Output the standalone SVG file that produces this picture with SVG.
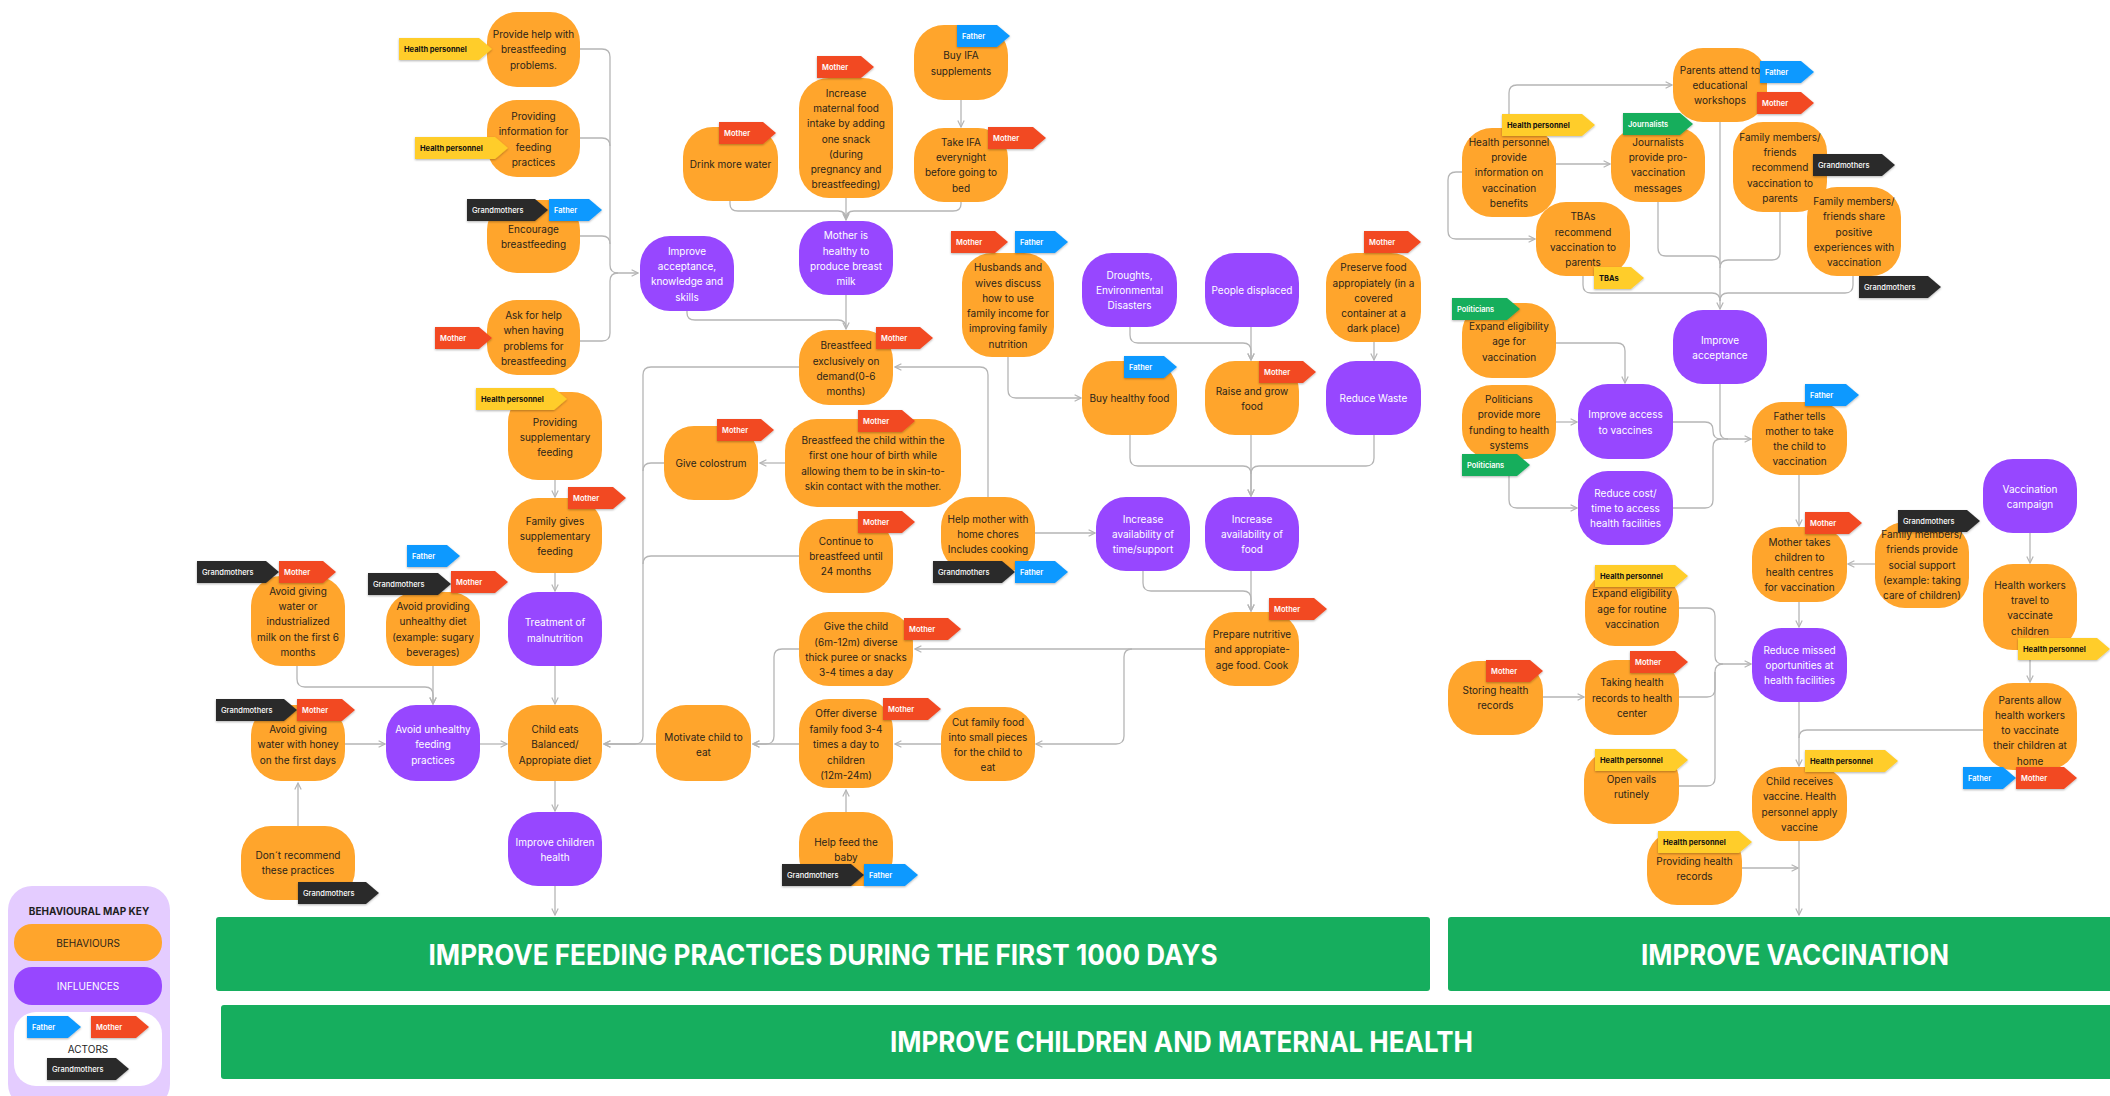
<svg xmlns="http://www.w3.org/2000/svg" width="2110" height="1096" viewBox="0 0 2110 1096">
<defs>
<marker id="ar" viewBox="0 0 10 10" refX="9" refY="5" markerWidth="8" markerHeight="8" markerUnits="userSpaceOnUse" orient="auto"><path d="M1,1 L9,5 L1,9" fill="none" stroke="#B5B5B5" stroke-width="1.5"/></marker>
<filter id="sh" x="-10%" y="-20%" width="120%" height="160%"><feDropShadow dx="0" dy="1" stdDeviation="0.8" flood-opacity="0.3"/></filter>
</defs>
<style>
.o{fill:#FFA52C}
.p{fill:#9747FF}
.t{font-family:Inter,"Noto Sans",sans-serif;font-size:10px;fill:#2B2419;text-anchor:middle;dominant-baseline:central}
.w{fill:#fff}
.c path{fill:none;stroke:#B5B5B5;stroke-width:1.3}
.c path.a{marker-end:url(#ar)}
.tag{filter:url(#sh)}
.tm{fill:#F24822}.tf{fill:#0D99FF}.tg{fill:#2C2C2C}.th{fill:#FFCD29}.tp{fill:#14AE5C}
.lt{font-family:Inter,"Noto Sans",sans-serif;font-size:7.5px;fill:#fff;font-weight:600;dominant-baseline:central}
.lg{font-weight:500}
.lk{fill:#111;font-weight:700}
.bn{fill:#16AE5E}
.bt{font-family:Inter,"Noto Sans",sans-serif;font-weight:700;fill:#fff;font-size:28px;text-anchor:middle}
.kt{font-family:Inter,"Noto Sans",sans-serif;font-size:10px;text-anchor:middle;dominant-baseline:central}
</style>
<rect width="2110" height="1096" fill="#fff"/>

<g id="connectors" class="c">
<path class="a" d="M580,49 H602 Q610,49 610,57 V265 Q610,273 618,273 H638"/>
<path d="M580,138 H602 Q610,138 610,146"/>
<path d="M580,236 H602 Q610,236 610,244"/>
<path d="M580,341 H602 Q610,341 610,333 V281 Q610,273 618,273"/>
<path class="a" d="M730,201 V204 Q730,211 738,211 H838 Q846,211 846,219"/>
<path class="a" d="M846,198 V220"/>
<path d="M961,202 V204 Q961,211 953,211 H854 Q846,211 846,219"/>
<path class="a" d="M961,100 V127"/>
<path class="a" d="M846,295 V329"/>
<path d="M687,311 V313 Q687,320 695,320 H838 Q846,320 846,328"/>
<path class="a" d="M988,497 V375 Q988,367 980,367 H895"/>
<path class="a" d="M799,367 H651 Q643,367 643,375 V736 Q643,744 635,744 H604"/>
<path d="M664,463 H651 Q643,463 643,471"/>
<path d="M799,556 H651 Q643,556 643,564"/>
<path class="a" d="M785,463 H760"/>
<path class="a" d="M1008,357 V390 Q1008,398 1016,398 H1081"/>
<path class="a" d="M1130,327 V335 Q1130,343 1138,343 H1243 Q1251,343 1251,351 V360"/>
<path class="a" d="M1251,327 V360"/>
<path class="a" d="M1374,342 V360"/>
<path class="a" d="M1130,435 V458 Q1130,466 1138,466 H1243 Q1251,466 1251,474 V496"/>
<path class="a" d="M1251,435 V496"/>
<path d="M1374,435 V458 Q1374,466 1366,466 H1259 Q1251,466 1251,474"/>
<path class="a" d="M1035,533 H1095"/>
<path class="a" d="M1143,571 V583 Q1143,591 1151,591 H1243 Q1251,591 1251,599 V611"/>
<path class="a" d="M1251,571 V611"/>
<path class="a" d="M1205,649 H915"/>
<path class="a" d="M1132,649 Q1124,649 1124,657 V736 Q1124,744 1116,744 H1036"/>
<path class="a" d="M941,744 H895"/>
<path class="a" d="M799,649 H782 Q774,649 774,657 V736 Q774,744 766,744 H753"/>
<path class="a" d="M799,744 H753"/>
<path class="a" d="M656,744 H604"/>
<path class="a" d="M846,812 V790"/>
<path class="a" d="M555,781 V811"/>
<path class="a" d="M555,886 V915"/>
<path class="a" d="M555,480 V497"/>
<path class="a" d="M555,573 V591"/>
<path class="a" d="M555,666 V704"/>
<path class="a" d="M297,666 V679 Q297,687 305,687 H425 Q433,687 433,695 V704"/>
<path class="a" d="M433,666 V704"/>
<path class="a" d="M345,744 H385"/>
<path class="a" d="M480,744 H507"/>
<path class="a" d="M298,826 V783"/>

<path class="a" d="M1509,128 V93 Q1509,85 1517,85 H1672"/>
<path class="a" d="M1556,164 H1610"/>
<path class="a" d="M1462,172 H1456 Q1448,172 1448,180 V231 Q1448,239 1456,239 H1535"/>
<path class="a" d="M1720,122 V309"/>
<path d="M1658,202 V248 Q1658,256 1666,256 H1712 Q1720,256 1720,264"/>
<path d="M1780,212 V252 Q1780,260 1772,260 H1728 Q1720,260 1720,268"/>
<path d="M1583,276 V285 Q1583,293 1591,293 H1712 Q1720,293 1720,301"/>
<path d="M1853,276 V285 Q1853,293 1845,293 H1728 Q1720,293 1720,301"/>
<path class="a" d="M1556,343 H1617 Q1625,343 1625,351 V383"/>
<path class="a" d="M1556,422 H1577"/>
<path class="a" d="M1509,470 V500 Q1509,508 1517,508 H1577"/>
<path class="a" d="M1673,422 H1705 Q1713,422 1713,430 V431 Q1713,439 1721,439 H1751"/>
<path d="M1673,508 H1705 Q1713,508 1713,500 V447 Q1713,439 1721,439"/>
<path d="M1720,384 V431 Q1720,439 1728,439"/>
<path class="a" d="M1799,475 V526"/>
<path class="a" d="M1875,564 H1848"/>
<path class="a" d="M2030,533 V563"/>
<path class="a" d="M2030,650 V682"/>
<path class="a" d="M1799,602 V627"/>
<path class="a" d="M1679,608 H1707 Q1715,608 1715,616 V656 Q1715,664 1723,664 H1751"/>
<path d="M1679,697 H1707 Q1715,697 1715,689 V672 Q1715,664 1723,664"/>
<path d="M1679,786 H1707 Q1715,786 1715,778 V672"/>
<path class="a" d="M1543,697 H1584"/>
<path class="a" d="M1799,702 V766"/>
<path d="M1983,730 H1807 Q1799,730 1799,738"/>
<path class="a" d="M1742,868 H1798"/>
<path class="a" d="M1799,841 V915"/>
</g>

<g id="n-provide-help"><rect class="o" x="487" y="12" width="93" height="75" rx="30"/><text class="t"><tspan x="533.5" y="34">Provide help with</tspan><tspan x="533.5" y="49">breastfeeding</tspan><tspan x="533.5" y="65">problems.</tspan></text>
<path class="tag th" d="M399 38H479L492 49L479 60H399Z"/><text class="lt lk" x="404" y="49">Health personnel</text></g>

<g id="n-providing-info"><rect class="o" x="487" y="100" width="93" height="77" rx="30"/><text class="t"><tspan x="533.5" y="116">Providing</tspan><tspan x="533.5" y="131">information for</tspan><tspan x="533.5" y="147">feeding</tspan><tspan x="533.5" y="162">practices</tspan></text>
<path class="tag th" d="M415 137H495L508 148L495 159H415Z"/><text class="lt lk" x="420" y="148">Health personnel</text></g>

<g id="n-encourage"><rect class="o" x="487" y="200" width="93" height="73" rx="30"/><text class="t"><tspan x="533.5" y="229">Encourage</tspan><tspan x="533.5" y="244">breastfeeding</tspan></text>
<path class="tag tg" d="M467 199H535L548 210L535 221H467Z"/><text class="lt lg" x="472" y="210">Grandmothers</text>
<path class="tag tf" d="M549 199H589L602 210L589 221H549Z"/><text class="lt" x="554" y="210">Father</text></g>

<g id="n-ask-help"><rect class="o" x="487" y="300" width="93" height="75" rx="30"/><text class="t"><tspan x="533.5" y="315">Ask for help</tspan><tspan x="533.5" y="330">when having</tspan><tspan x="533.5" y="346">problems for</tspan><tspan x="533.5" y="361">breastfeeding</tspan></text>
<path class="tag tm" d="M435 327H479L492 338L479 349H435Z"/><text class="lt" x="440" y="338">Mother</text></g>

<g id="n-improve-skills"><rect class="p" x="640" y="236" width="94" height="75" rx="30"/><text class="t w"><tspan x="687" y="251">Improve</tspan><tspan x="687" y="266">acceptance,</tspan><tspan x="687" y="281">knowledge and</tspan><tspan x="687" y="297">skills</tspan></text></g>

<g id="n-drink"><rect class="o" x="683" y="127" width="95" height="74" rx="30"/><text class="t"><tspan x="730.5" y="164">Drink more water</tspan></text>
<path class="tag tm" d="M719 122H763L776 133L763 144H719Z"/><text class="lt" x="724" y="133">Mother</text></g>

<g id="n-maternal"><rect class="o" x="799" y="78" width="94" height="120" rx="30"/><text class="t"><tspan x="846" y="93">Increase</tspan><tspan x="846" y="108">maternal food</tspan><tspan x="846" y="123">intake by adding</tspan><tspan x="846" y="139">one snack</tspan><tspan x="846" y="154">(during</tspan><tspan x="846" y="169">pregnancy and</tspan><tspan x="846" y="184">breastfeeding)</tspan></text>
<path class="tag tm" d="M817 56H861L874 67L861 78H817Z"/><text class="lt" x="822" y="67">Mother</text></g>

<g id="n-buy-ifa"><rect class="o" x="914" y="25" width="94" height="75" rx="30"/><text class="t"><tspan x="961" y="55">Buy IFA</tspan><tspan x="961" y="71">supplements</tspan></text>
<path class="tag tf" d="M957 25H997L1010 36L997 47H957Z"/><text class="lt" x="962" y="36">Father</text></g>

<g id="n-take-ifa"><rect class="o" x="914" y="128" width="94" height="74" rx="30"/><text class="t"><tspan x="961" y="142">Take IFA</tspan><tspan x="961" y="157">everynight</tspan><tspan x="961" y="172">before going to</tspan><tspan x="961" y="188">bed</tspan></text>
<path class="tag tm" d="M988 127H1033L1046 138L1033 149H988Z"/><text class="lt" x="993" y="138">Mother</text></g>

<g id="n-mother-healthy"><rect class="p" x="799" y="221" width="94" height="74" rx="30"/><text class="t w"><tspan x="846" y="235">Mother is</tspan><tspan x="846" y="251">healthy to</tspan><tspan x="846" y="266">produce breast</tspan><tspan x="846" y="281">milk</tspan></text></g>

<g id="n-bf-exclusive"><rect class="o" x="799" y="330" width="94" height="75" rx="30"/><text class="t"><tspan x="846" y="345">Breastfeed</tspan><tspan x="846" y="361">exclusively  on</tspan><tspan x="846" y="376">demand(0-6</tspan><tspan x="846" y="391">months)</tspan></text>
<path class="tag tm" d="M876 327H920L933 338L920 349H876Z"/><text class="lt" x="881" y="338">Mother</text></g>

<g id="n-husbands"><rect class="o" x="962" y="253" width="92" height="104" rx="30"/><text class="t"><tspan x="1008" y="267">Husbands and</tspan><tspan x="1008" y="283">wives discuss</tspan><tspan x="1008" y="298">how to use</tspan><tspan x="1008" y="313">family income for</tspan><tspan x="1008" y="328">improving family</tspan><tspan x="1008" y="344">nutrition</tspan></text>
<path class="tag tm" d="M951 231H995L1008 242L995 253H951Z"/><text class="lt" x="956" y="242">Mother</text>
<path class="tag tf" d="M1015 231H1055L1068 242L1055 253H1015Z"/><text class="lt" x="1020" y="242">Father</text></g>

<g id="n-droughts"><rect class="p" x="1082" y="253" width="95" height="74" rx="30"/><text class="t w"><tspan x="1129.5" y="275">Droughts,</tspan><tspan x="1129.5" y="290">Environmental</tspan><tspan x="1129.5" y="305">Disasters</tspan></text></g>

<g id="n-displaced"><rect class="p" x="1205" y="253" width="94" height="74" rx="30"/><text class="t w"><tspan x="1252" y="290">People displaced</tspan></text></g>

<g id="n-preserve"><rect class="o" x="1326" y="253" width="95" height="89" rx="30"/><text class="t"><tspan x="1373.5" y="267">Preserve food</tspan><tspan x="1373.5" y="283">appropiately (in a</tspan><tspan x="1373.5" y="298">covered</tspan><tspan x="1373.5" y="313">container at a</tspan><tspan x="1373.5" y="328">dark place)</tspan></text>
<path class="tag tm" d="M1364 231H1408L1421 242L1408 253H1364Z"/><text class="lt" x="1369" y="242">Mother</text></g>

<g id="n-buy-healthy"><rect class="o" x="1082" y="361" width="95" height="74" rx="30"/><text class="t"><tspan x="1129.5" y="398">Buy healthy food</tspan></text>
<path class="tag tf" d="M1124 356H1164L1177 367L1164 378H1124Z"/><text class="lt" x="1129" y="367">Father</text></g>

<g id="n-raise"><rect class="o" x="1205" y="361" width="94" height="74" rx="30"/><text class="t"><tspan x="1252" y="391">Raise and grow</tspan><tspan x="1252" y="406">food</tspan></text>
<path class="tag tm" d="M1259 361H1303L1316 372L1303 383H1259Z"/><text class="lt" x="1264" y="372">Mother</text></g>

<g id="n-reduce-waste"><rect class="p" x="1326" y="361" width="95" height="74" rx="30"/><text class="t w"><tspan x="1373.5" y="398">Reduce Waste</tspan></text></g>

<g id="n-time-support"><rect class="p" x="1096" y="497" width="94" height="74" rx="30"/><text class="t w"><tspan x="1143" y="519">Increase</tspan><tspan x="1143" y="534">availability of</tspan><tspan x="1143" y="549">time/support</tspan></text></g>

<g id="n-avail-food"><rect class="p" x="1205" y="497" width="94" height="74" rx="30"/><text class="t w"><tspan x="1252" y="519">Increase</tspan><tspan x="1252" y="534">availability of</tspan><tspan x="1252" y="549">food</tspan></text></g>

<g id="n-prepare"><rect class="o" x="1205" y="612" width="94" height="74" rx="30"/><text class="t"><tspan x="1252" y="634">Prepare nutritive</tspan><tspan x="1252" y="649">and appropiate-</tspan><tspan x="1252" y="665">age food. Cook</tspan></text>
<path class="tag tm" d="M1269 598H1314L1327 609L1314 620H1269Z"/><text class="lt" x="1274" y="609">Mother</text></g>

<g id="n-help-mother"><rect class="o" x="941" y="497" width="94" height="75" rx="30"/><text class="t"><tspan x="988" y="519">Help mother with</tspan><tspan x="988" y="534">home chores</tspan><tspan x="988" y="549">Includes cooking</tspan></text>
<path class="tag tg" d="M933 561H1002L1015 572L1002 583H933Z"/><text class="lt lg" x="938" y="572">Grandmothers</text>
<path class="tag tf" d="M1015 561H1055L1068 572L1055 583H1015Z"/><text class="lt" x="1020" y="572">Father</text></g>

<g id="n-colostrum"><rect class="o" x="664" y="426" width="94" height="74" rx="30"/><text class="t"><tspan x="711" y="463">Give colostrum</tspan></text>
<path class="tag tm" d="M717 419H761L774 430L761 441H717Z"/><text class="lt" x="722" y="430">Mother</text></g>

<g id="n-first-hour"><rect class="o" x="785" y="419" width="176" height="88" rx="32"/><text class="t"><tspan x="873" y="440">Breastfeed the child within the</tspan><tspan x="873" y="455">first one hour of birth while</tspan><tspan x="873" y="471">allowing them to be in skin-to-</tspan><tspan x="873" y="486">skin contact with the mother.</tspan></text>
<path class="tag tm" d="M858 410H902L915 421L902 432H858Z"/><text class="lt" x="863" y="421">Mother</text></g>

<g id="n-continue-bf"><rect class="o" x="799" y="519" width="94" height="74" rx="30"/><text class="t"><tspan x="846" y="541">Continue to</tspan><tspan x="846" y="556">breastfeed until</tspan><tspan x="846" y="571">24 months</tspan></text>
<path class="tag tm" d="M858 511H902L915 522L902 533H858Z"/><text class="lt" x="863" y="522">Mother</text></g>

<g id="n-give-child"><rect class="o" x="799" y="612" width="114" height="74" rx="30"/><text class="t"><tspan x="856" y="626">Give the child</tspan><tspan x="856" y="642">(6m-12m)  diverse</tspan><tspan x="856" y="657">thick puree or snacks</tspan><tspan x="856" y="672">3-4 times a day</tspan></text>
<path class="tag tm" d="M904 618H948L961 629L948 640H904Z"/><text class="lt" x="909" y="629">Mother</text></g>

<g id="n-offer"><rect class="o" x="799" y="699" width="94" height="89" rx="30"/><text class="t"><tspan x="846" y="713">Offer diverse</tspan><tspan x="846" y="729">family food 3-4</tspan><tspan x="846" y="744">times a day to</tspan><tspan x="846" y="760">children</tspan><tspan x="846" y="775">(12m-24m)</tspan></text>
<path class="tag tm" d="M883 698H928L941 709L928 720H883Z"/><text class="lt" x="888" y="709">Mother</text></g>

<g id="n-cut"><rect class="o" x="941" y="707" width="94" height="74" rx="30"/><text class="t"><tspan x="988" y="722">Cut family food</tspan><tspan x="988" y="737">into small pieces</tspan><tspan x="988" y="752">for the child to</tspan><tspan x="988" y="767">eat</tspan></text></g>

<g id="n-motivate"><rect class="o" x="656" y="705" width="95" height="76" rx="30"/><text class="t"><tspan x="703.5" y="737">Motivate child to</tspan><tspan x="703.5" y="752">eat</tspan></text></g>

<g id="n-child-eats"><rect class="o" x="508" y="705" width="94" height="76" rx="30"/><text class="t"><tspan x="555" y="729">Child eats</tspan><tspan x="555" y="744">Balanced/</tspan><tspan x="555" y="760">Appropiate diet</tspan></text></g>

<g id="n-improve-children"><rect class="p" x="508" y="812" width="94" height="74" rx="30"/><text class="t w"><tspan x="555" y="842">Improve children</tspan><tspan x="555" y="857">health</tspan></text></g>

<g id="n-help-feed"><rect class="o" x="799" y="812" width="94" height="74" rx="30"/><text class="t"><tspan x="846" y="842">Help feed the</tspan><tspan x="846" y="857">baby</tspan></text>
<path class="tag tg" d="M782 864H851L864 875L851 886H782Z"/><text class="lt lg" x="787" y="875">Grandmothers</text>
<path class="tag tf" d="M864 864H905L918 875L905 886H864Z"/><text class="lt" x="869" y="875">Father</text></g>

<g id="n-prov-supp"><rect class="o" x="508" y="392" width="94" height="88" rx="30"/><text class="t"><tspan x="555" y="422">Providing</tspan><tspan x="555" y="437">supplementary</tspan><tspan x="555" y="452">feeding</tspan></text>
<path class="tag th" d="M476 388H554L567 399L554 410H476Z"/><text class="lt lk" x="481" y="399">Health personnel</text></g>

<g id="n-family-gives"><rect class="o" x="508" y="498" width="94" height="75" rx="30"/><text class="t"><tspan x="555" y="521">Family gives</tspan><tspan x="555" y="536">supplementary</tspan><tspan x="555" y="551">feeding</tspan></text>
<path class="tag tm" d="M568 487H613L626 498L613 509H568Z"/><text class="lt" x="573" y="498">Mother</text></g>

<g id="n-treatment"><rect class="p" x="508" y="592" width="94" height="74" rx="30"/><text class="t w"><tspan x="555" y="622">Treatment of</tspan><tspan x="555" y="638">malnutrition</tspan></text></g>

<g id="n-avoid-water-milk"><rect class="o" x="251" y="576" width="94" height="90" rx="30"/><text class="t"><tspan x="298" y="591">Avoid giving</tspan><tspan x="298" y="606">water  or</tspan><tspan x="298" y="621">industrialized</tspan><tspan x="298" y="637">milk on the first 6</tspan><tspan x="298" y="652">months</tspan></text>
<path class="tag tg" d="M197 561H266L279 572L266 583H197Z"/><text class="lt lg" x="202" y="572">Grandmothers</text>
<path class="tag tm" d="M279 561H323L336 572L323 583H279Z"/><text class="lt" x="284" y="572">Mother</text></g>

<g id="n-avoid-diet"><rect class="o" x="386" y="592" width="94" height="74" rx="30"/><text class="t"><tspan x="433" y="606">Avoid providing</tspan><tspan x="433" y="621">unhealthy diet</tspan><tspan x="433" y="637">(example: sugary</tspan><tspan x="433" y="652">beverages)</tspan></text>
<path class="tag tf" d="M407 545H447L460 556L447 567H407Z"/><text class="lt" x="412" y="556">Father</text>
<path class="tag tg" d="M368 573H438L451 584L438 595H368Z"/><text class="lt lg" x="373" y="584">Grandmothers</text>
<path class="tag tm" d="M451 571H495L508 582L495 593H451Z"/><text class="lt" x="456" y="582">Mother</text></g>

<g id="n-avoid-honey"><rect class="o" x="251" y="705" width="94" height="76" rx="30"/><text class="t"><tspan x="298" y="729">Avoid giving</tspan><tspan x="298" y="744">water with honey</tspan><tspan x="298" y="760">on the first days</tspan></text>
<path class="tag tg" d="M216 699H284L297 710L284 721H216Z"/><text class="lt lg" x="221" y="710">Grandmothers</text>
<path class="tag tm" d="M297 699H342L355 710L342 721H297Z"/><text class="lt" x="302" y="710">Mother</text></g>

<g id="n-avoid-feeding"><rect class="p" x="386" y="705" width="94" height="76" rx="30"/><text class="t w"><tspan x="433" y="729">Avoid unhealthy</tspan><tspan x="433" y="744">feeding</tspan><tspan x="433" y="760">practices</tspan></text></g>

<g id="n-dont"><rect class="o" x="241" y="826" width="114" height="74" rx="30"/><text class="t"><tspan x="298" y="855">Don´t recommend</tspan><tspan x="298" y="870">these practices</tspan></text>
<path class="tag tg" d="M298 882H366L379 893L366 904H298Z"/><text class="lt lg" x="303" y="893">Grandmothers</text></g>

<g id="n-hp-info"><rect class="o" x="1462" y="128" width="94" height="89" rx="30"/><text class="t"><tspan x="1509" y="142">Health personnel</tspan><tspan x="1509" y="157">provide</tspan><tspan x="1509" y="172">information on</tspan><tspan x="1509" y="188">vaccination</tspan><tspan x="1509" y="203">benefits</tspan></text>
<path class="tag th" d="M1502 114H1582L1595 125L1582 136H1502Z"/><text class="lt lk" x="1507" y="125">Health personnel</text></g>

<g id="n-parents-attend"><rect class="o" x="1673" y="48" width="94" height="74" rx="30"/><text class="t"><tspan x="1720" y="70">Parents attend to</tspan><tspan x="1720" y="85">educational</tspan><tspan x="1720" y="100">workshops</tspan></text>
<path class="tag tf" d="M1760 61H1801L1814 72L1801 83H1760Z"/><text class="lt" x="1765" y="72">Father</text>
<path class="tag tm" d="M1757 92H1801L1814 103L1801 114H1757Z"/><text class="lt" x="1762" y="103">Mother</text></g>

<g id="n-journalists"><rect class="o" x="1611" y="127" width="94" height="75" rx="30"/><text class="t"><tspan x="1658" y="142">Journalists</tspan><tspan x="1658" y="157">provide pro-</tspan><tspan x="1658" y="172">vaccination</tspan><tspan x="1658" y="188">messages</tspan></text>
<path class="tag tp" d="M1623 113H1680L1693 124L1680 135H1623Z"/><text class="lt" x="1628" y="124">Journalists</text></g>

<g id="n-family-rec"><rect class="o" x="1733" y="122" width="94" height="90" rx="30"/><text class="t"><tspan x="1780" y="137">Family members/</tspan><tspan x="1780" y="152">friends</tspan><tspan x="1780" y="167">recommend</tspan><tspan x="1780" y="183">vaccination to</tspan><tspan x="1780" y="198">parents</tspan></text>
<path class="tag tg" d="M1813 154H1882L1895 165L1882 176H1813Z"/><text class="lt lg" x="1818" y="165">Grandmothers</text></g>

<g id="n-family-share"><rect class="o" x="1807" y="187" width="94" height="89" rx="30"/><text class="t"><tspan x="1854" y="201">Family members/</tspan><tspan x="1854" y="216">friends share</tspan><tspan x="1854" y="232">positive</tspan><tspan x="1854" y="247">experiences with</tspan><tspan x="1854" y="262">vaccination</tspan></text>
<path class="tag tg" d="M1859 276H1928L1941 287L1928 298H1859Z"/><text class="lt lg" x="1864" y="287">Grandmothers</text></g>

<g id="n-tbas"><rect class="o" x="1536" y="202" width="94" height="74" rx="30"/><text class="t"><tspan x="1583" y="216">TBAs</tspan><tspan x="1583" y="232">recommend</tspan><tspan x="1583" y="247">vaccination to</tspan><tspan x="1583" y="262">parents</tspan></text>
<path class="tag th" d="M1594 267H1631L1644 278L1631 289H1594Z"/><text class="lt lk" x="1599" y="278">TBAs</text></g>

<g id="n-improve-acceptance"><rect class="p" x="1673" y="310" width="94" height="74" rx="30"/><text class="t w"><tspan x="1720" y="340">Improve</tspan><tspan x="1720" y="355">acceptance</tspan></text></g>

<g id="n-expand-vacc"><rect class="o" x="1462" y="303" width="94" height="75" rx="30"/><text class="t"><tspan x="1509" y="326">Expand eligibility</tspan><tspan x="1509" y="341">age for</tspan><tspan x="1509" y="357">vaccination</tspan></text>
<path class="tag tp" d="M1452 298H1507L1520 309L1507 320H1452Z"/><text class="lt" x="1457" y="309">Politicians</text></g>

<g id="n-politicians"><rect class="o" x="1462" y="385" width="94" height="74" rx="30"/><text class="t"><tspan x="1509" y="399">Politicians</tspan><tspan x="1509" y="414">provide more</tspan><tspan x="1509" y="430">funding to health</tspan><tspan x="1509" y="445">systems</tspan></text>
<path class="tag tp" d="M1462 454H1517L1530 465L1517 476H1462Z"/><text class="lt" x="1467" y="465">Politicians</text></g>

<g id="n-improve-access"><rect class="p" x="1578" y="384" width="95" height="75" rx="30"/><text class="t w"><tspan x="1625.5" y="414">Improve access</tspan><tspan x="1625.5" y="430">to vaccines</tspan></text></g>

<g id="n-reduce-cost"><rect class="p" x="1578" y="471" width="95" height="74" rx="30"/><text class="t w"><tspan x="1625.5" y="493">Reduce cost/</tspan><tspan x="1625.5" y="508">time to access</tspan><tspan x="1625.5" y="523">health facilities</tspan></text></g>

<g id="n-father-tells"><rect class="o" x="1752" y="402" width="95" height="73" rx="30"/><text class="t"><tspan x="1799.5" y="416">Father tells</tspan><tspan x="1799.5" y="431">mother to take</tspan><tspan x="1799.5" y="446">the child to</tspan><tspan x="1799.5" y="461">vaccination</tspan></text>
<path class="tag tf" d="M1805 384H1846L1859 395L1846 406H1805Z"/><text class="lt" x="1810" y="395">Father</text></g>

<g id="n-mother-takes"><rect class="o" x="1752" y="527" width="95" height="75" rx="30"/><text class="t"><tspan x="1799.5" y="542">Mother takes</tspan><tspan x="1799.5" y="557">children to</tspan><tspan x="1799.5" y="572">health centres</tspan><tspan x="1799.5" y="587">for vaccination</tspan></text>
<path class="tag tm" d="M1805 512H1849L1862 523L1849 534H1805Z"/><text class="lt" x="1810" y="523">Mother</text></g>

<g id="n-family-support"><rect class="o" x="1875" y="522" width="94" height="86" rx="30"/><text class="t"><tspan x="1922" y="534">Family members/</tspan><tspan x="1922" y="549">friends  provide</tspan><tspan x="1922" y="565">social support</tspan><tspan x="1922" y="580">(example: taking</tspan><tspan x="1922" y="595">care of children)</tspan></text>
<path class="tag tg" d="M1898 510H1967L1980 521L1967 532H1898Z"/><text class="lt lg" x="1903" y="521">Grandmothers</text></g>

<g id="n-vacc-campaign"><rect class="p" x="1983" y="459" width="94" height="74" rx="30"/><text class="t w"><tspan x="2030" y="489">Vaccination</tspan><tspan x="2030" y="504">campaign</tspan></text></g>

<g id="n-hw-travel"><rect class="o" x="1983" y="564" width="94" height="86" rx="30"/><text class="t"><tspan x="2030" y="585">Health workers</tspan><tspan x="2030" y="600">travel to</tspan><tspan x="2030" y="615">vaccinate</tspan><tspan x="2030" y="631">children</tspan></text>
<path class="tag th" d="M2018 638H2097L2110 649L2097 660H2018Z"/><text class="lt lk" x="2023" y="649">Health personnel</text></g>

<g id="n-parents-allow"><rect class="o" x="1983" y="683" width="94" height="87" rx="30"/><text class="t"><tspan x="2030" y="700">Parents allow</tspan><tspan x="2030" y="715">health workers</tspan><tspan x="2030" y="730">to vaccinate</tspan><tspan x="2030" y="745">their children at</tspan><tspan x="2030" y="761">home</tspan></text>
<path class="tag tf" d="M1963 767H2003L2016 778L2003 789H1963Z"/><text class="lt" x="1968" y="778">Father</text>
<path class="tag tm" d="M2016 767H2064L2077 778L2064 789H2016Z"/><text class="lt" x="2021" y="778">Mother</text></g>

<g id="n-expand-routine"><rect class="o" x="1585" y="572" width="94" height="74" rx="30"/><text class="t"><tspan x="1632" y="593">Expand eligibility</tspan><tspan x="1632" y="609">age for routine</tspan><tspan x="1632" y="624">vaccination</tspan></text>
<path class="tag th" d="M1595 565H1675L1688 576L1675 587H1595Z"/><text class="lt lk" x="1600" y="576">Health personnel</text></g>

<g id="n-taking-records"><rect class="o" x="1585" y="660" width="94" height="75" rx="30"/><text class="t"><tspan x="1632" y="682">Taking health</tspan><tspan x="1632" y="698">records to health</tspan><tspan x="1632" y="713">center</tspan></text>
<path class="tag tm" d="M1630 651H1675L1688 662L1675 673H1630Z"/><text class="lt" x="1635" y="662">Mother</text></g>

<g id="n-reduce-missed"><rect class="p" x="1752" y="628" width="95" height="74" rx="30"/><text class="t w"><tspan x="1799.5" y="650">Reduce missed</tspan><tspan x="1799.5" y="665">oportunities at</tspan><tspan x="1799.5" y="680">health facilities</tspan></text></g>

<g id="n-storing"><rect class="o" x="1448" y="661" width="95" height="74" rx="30"/><text class="t"><tspan x="1495.5" y="690">Storing health</tspan><tspan x="1495.5" y="705">records</tspan></text>
<path class="tag tm" d="M1486 660H1530L1543 671L1530 682H1486Z"/><text class="lt" x="1491" y="671">Mother</text></g>

<g id="n-open-vails"><rect class="o" x="1584" y="750" width="95" height="74" rx="30"/><text class="t"><tspan x="1631.5" y="779">Open vails</tspan><tspan x="1631.5" y="794">rutinely</tspan></text>
<path class="tag th" d="M1595 749H1675L1688 760L1675 771H1595Z"/><text class="lt lk" x="1600" y="760">Health personnel</text></g>

<g id="n-child-receives"><rect class="o" x="1752" y="767" width="95" height="74" rx="30"/><text class="t"><tspan x="1799.5" y="781">Child receives</tspan><tspan x="1799.5" y="796">vaccine. Health</tspan><tspan x="1799.5" y="812">personnel apply</tspan><tspan x="1799.5" y="827">vaccine</tspan></text>
<path class="tag th" d="M1805 750H1885L1898 761L1885 772H1805Z"/><text class="lt lk" x="1810" y="761">Health personnel</text></g>

<g id="n-providing-records"><rect class="o" x="1647" y="831" width="95" height="74" rx="30"/><text class="t"><tspan x="1694.5" y="861">Providing health</tspan><tspan x="1694.5" y="876">records</tspan></text>
<path class="tag th" d="M1658 831H1739L1752 842L1739 853H1658Z"/><text class="lt lk" x="1663" y="842">Health personnel</text></g>

<g id="banner-feeding"><rect class="bn" x="216" y="917" width="1214" height="74" rx="3"/><text class="bt" x="823" y="965" textLength="789" lengthAdjust="spacingAndGlyphs">IMPROVE FEEDING PRACTICES DURING THE FIRST 1000 DAYS</text></g>
<g id="banner-vaccination"><rect class="bn" x="1448" y="917" width="670" height="74" rx="3"/><text class="bt" x="1795" y="965" textLength="308" lengthAdjust="spacingAndGlyphs">IMPROVE VACCINATION</text></g>
<g id="banner-health"><rect class="bn" x="221" y="1005" width="1897" height="74" rx="3"/><text class="bt" x="1181.5" y="1052" textLength="583" lengthAdjust="spacingAndGlyphs">IMPROVE CHILDREN AND MATERNAL HEALTH</text></g>

<g id="legend">
<rect x="8" y="886" width="162" height="222" rx="24" fill="#E4CCFF"/>
<text class="kt" x="89" y="911" font-weight="700" fill="#1E1E1E">BEHAVIOURAL MAP KEY</text>
<rect class="o" x="14" y="924" width="148" height="37" rx="18"/>
<text class="kt" x="88" y="943" fill="#2B2419">BEHAVIOURS</text>
<rect class="p" x="14" y="967" width="148" height="38" rx="18"/>
<text class="kt" x="88" y="986" fill="#fff">INFLUENCES</text>
<rect x="14" y="1012" width="148" height="74" rx="22" fill="#fff"/>
<path class="tag tf" d="M27 1016H68L81 1027L68 1038H27Z"/><text class="lt" x="32" y="1027">Father</text>
<path class="tag tm" d="M91 1016H136L149 1027L136 1038H91Z"/><text class="lt" x="96" y="1027">Mother</text>
<text class="kt" x="88" y="1049" fill="#1E1E1E">ACTORS</text>
<path class="tag tg" d="M47 1058H116L129 1069L116 1080H47Z"/><text class="lt lg" x="52" y="1069">Grandmothers</text>
</g>
</svg>
